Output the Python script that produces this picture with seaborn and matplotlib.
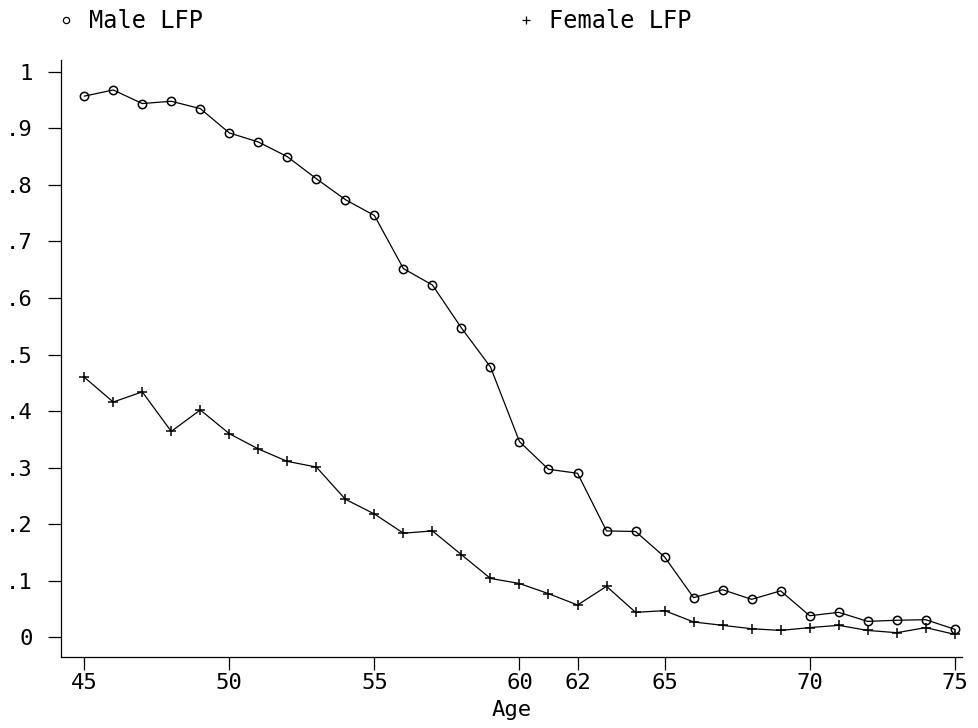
import numpy as np
import pandas as pd
import seaborn as sns
import matplotlib.pyplot as plt
from matplotlib.lines import Line2D

ages = list(range(45, 76))
male_lfp = [0.957, 0.968, 0.944, 0.948, 0.935, 0.892, 0.876, 0.850, 0.811, 0.774,
            0.746, 0.652, 0.623, 0.547, 0.478, 0.346, 0.297, 0.290, 0.188, 0.187,
            0.142, 0.070, 0.084, 0.067, 0.082, 0.038, 0.044, 0.028, 0.030, 0.031,
            0.014]
female_lfp = [0.460, 0.416, 0.434, 0.364, 0.402, 0.360, 0.333, 0.311, 0.301, 0.244,
              0.218, 0.184, 0.188, 0.146, 0.104, 0.095, 0.077, 0.057, 0.090, 0.044,
              0.047, 0.027, 0.021, 0.015, 0.012, 0.017, 0.021, 0.012, 0.008, 0.017,
              0.005]
x_ticks = [45, 50, 55, 60, 62, 65, 70, 75]
y_ticks = [0, 0.1, 0.2, 0.3, 0.4, 0.5, 0.6, 0.7, 0.8, 0.9, 1.0]
y_labels = ['0', '.1', '.2', '.3', '.4', '.5', '.6', '.7', '.8', '.9', '1']

sns.set_style('ticks')
plt.rcParams['font.family'] = ['DejaVu Sans Mono']
plt.rcParams['text.color'] = 'black'
plt.rcParams['axes.labelcolor'] = 'black'

df = pd.DataFrame({'age': ages, 'male': male_lfp, 'female': female_lfp})

fig = plt.figure(figsize=(9.79, 7.28), dpi=100)
ax = fig.add_axes([61 / 979, 71 / 728, 901 / 979, 597 / 728])

sns.lineplot(data=df, x='age', y='male', ax=ax, color='black', linewidth=0.9,
             marker='o', markersize=6, markerfacecolor='none',
             markeredgecolor='black', markeredgewidth=1.1)
sns.lineplot(data=df, x='age', y='female', ax=ax, color='black', linewidth=0.9,
             marker='+', markersize=6.5, markeredgecolor='black', markeredgewidth=1.1)

ax.set_xlim(44.2, 75.25)
ax.set_ylim(-0.035, 1.021)
ax.set_xticks(x_ticks)
ax.set_xticklabels([str(t) for t in x_ticks])
ax.set_yticks(y_ticks)
ax.set_yticklabels(y_labels)
ax.tick_params(axis='both', length=9.5, width=0.9, color='black', labelsize=16, labelcolor='black')
ax.tick_params(axis='y', pad=11)
ax.tick_params(axis='x', pad=2)
ax.set_xlabel('Age', fontsize=16, labelpad=5)
ax.set_ylabel('')
for side in ['top', 'right']:
    ax.spines[side].set_visible(False)
for side in ['left', 'bottom']:
    ax.spines[side].set_linewidth(0.9)
    ax.spines[side].set_color('black')

handles = [Line2D([], [], linestyle='none', marker='o', markersize=4.5, markerfacecolor='none',
                  markeredgecolor='black', markeredgewidth=0.9),
           Line2D([], [], linestyle='none', marker='+', markersize=6, markeredgecolor='black',
                  markeredgewidth=0.9)]
fig.legend(handles, ['Male LFP', 'Female LFP'], loc='upper left', bbox_to_anchor=(0.034, 1.017),
           ncol=2, frameon=False, fontsize=17, handlelength=1.0, handletextpad=0.45,
           columnspacing=13.2)

fig.savefig('out.png', dpi=100)
